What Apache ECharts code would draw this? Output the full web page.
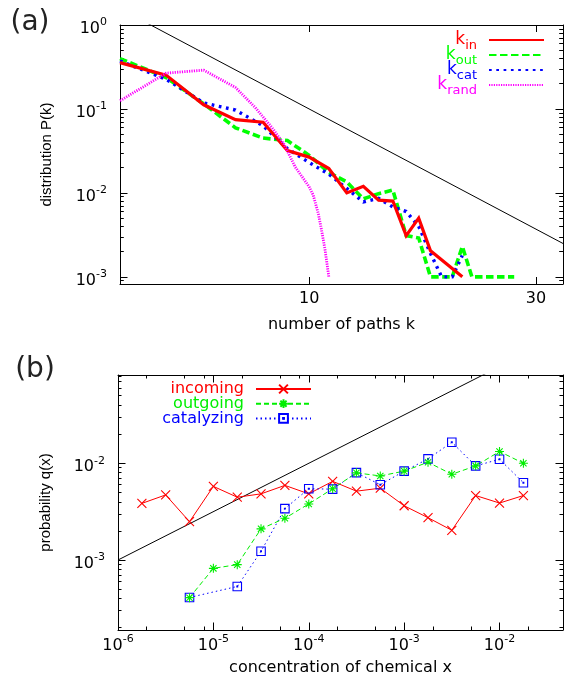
<!DOCTYPE html>
<html>
<head>
<meta charset="utf-8">
<title>paths k / concentration x</title>
<script src="https://cdn.jsdelivr.net/npm/echarts@6.0.0/dist/echarts.min.js"></script>
</head>
<body style="margin:0">
<div id="main" style="width:565px;height:677px"></div>
<script>
// (a) distribution of the number of paths
var kValues = [4,5,6,7,8,9,10,11,12,13,14,15,16,17,18,19,20,21,22,23,24,25,26,27];
var pIn  = [0.356,0.253,0.112,0.0747,0.0695,0.032,0.0267,0.0195,0.010,0.012,0.0082,0.0080,0.0031,0.0050,0.00205,null,null,0.001];
var pOut = [0.398,0.237,0.115,0.0596,0.045,0.042,0.028,0.0175,0.0135,0.0085,0.0098,0.0108,0.0031,0.0029,0.001,0.001,0.001,0.0023,0.001,0.001,0.001,0.001,0.001,0.001];
var pCat = [0.373,0.226,0.118,0.097,0.063,0.0336,0.023,0.0167,0.0113,0.0078,0.0086,0.0068,0.0060,0.0040,0.0019,0.001,0.001,0.0018];
var kRand = [4,5,6,7,7.7,8.35,8.85,9.35,10,10.2,10.45,10.62,10.8,11];
var pRand = [0.125,0.267,0.29,0.18,0.104,0.060,0.038,0.0203,0.0118,0.0094,0.0057,0.0036,0.0021,0.001];
var guideK = [4, 35];
var guideP = [1.5625, 0.00233];

// (b) probability vs concentration
var concX = [1.78e-6,3.16e-6,5.62e-6,1e-5,1.78e-5,3.16e-5,5.62e-5,1e-4,1.78e-4,3.16e-4,5.62e-4,1e-3,1.78e-3,3.16e-3,5.62e-3,1e-2,1.78e-2];
var qIn  = [0.00385,0.00471,0.00249,0.00577,0.00446,0.00483,0.00591,0.00483,0.00651,0.00515,0.00553,0.00364,0.00274,0.00203,0.00464,0.00388,0.00464];
var qOut = [null,null,0.000408,0.00082,0.000896,0.0021,0.0027,0.0038,0.00546,0.00796,0.0074,0.0083,0.01025,0.0077,0.0094,0.01325,0.0100];
var qCat = [null,null,0.00041,null,0.000533,0.00123,0.0034,0.00546,0.0054,0.0080,0.0060,0.0083,0.0111,0.0165,0.0094,0.0110,0.0063];
var guideX = [1e-6, 0.05];
var guideQ = [0.001, 0.2236];

// ticks
var aXTicks = [10, 30];
var aYTicks = [1e-3, 1e-2, 1e-1, 1];
var bXTicks = [1e-6, 1e-5, 1e-4, 1e-3, 1e-2];
var bYTicks = [1e-3, 1e-2];
var minorAll = [2,3,4,5,6,7,8,9];
var minorBX = [2,5,8];

// axis ranges (raw values)
var aX = [4, 34.2], aY = [8.22e-4, 1];
var bX = [1e-6, 0.0463], bY = [1.89e-4, 0.0818];

var lg = Math.log10;

function pairs(xs, ys) {
  return xs.map(function (x, i) {
    return ys[i] == null ? null : [lg(x), lg(ys[i])];
  }).filter(Boolean);
}
function minors(lo, hi, mants) {
  var out = [];
  for (var d = Math.floor(lg(lo)); d <= Math.ceil(lg(hi)); d++) {
    mants.forEach(function (m) { out.push(d + lg(m)); });
  }
  return out;
}
function pow10Label(v) { return '{b|10}{e|' + Math.round(v) + '}'; }

var RICH = {
  b: { fontFamily: 'DejaVu Sans', fontSize: 16, lineHeight: 16, padding: [4,0,0,0], verticalAlign: 'top', color: '#000' },
  e: { fontFamily: 'DejaVu Sans', fontSize: 11, lineHeight: 11, verticalAlign: 'top', color: '#000' }
};

function edge(o) {
  var ax = {
    type: 'value', gridIndex: o.grid, position: o.pos,
    min: lg(o.range[0]), max: lg(o.range[1]),
    axisLine: { show: !!o.line, onZero: false, lineStyle: { color: '#000', width: 1 } },
    axisTick: { show: true, inside: true, length: o.len, customValues: o.ticks,
                lineStyle: { color: '#000', width: 1 } },
    axisLabel: { show: false },
    splitLine: { show: false },
    axisPointer: { show: false }
  };
  if (o.fmt) {
    ax.axisLabel = { show: true, customValues: o.ticks, formatter: o.fmt, margin: o.margin,
                     color: '#000', fontFamily: 'DejaVu Sans', fontSize: 16, rich: RICH };
  }
  if (o.name) {
    ax.name = o.name;
    ax.nameLocation = 'middle';
    ax.nameGap = o.nameGap;
    ax.nameTextStyle = { color: '#000', fontFamily: o.nameFont, fontSize: o.nameSize };
  }
  return ax;
}

var aXMajor = aXTicks.map(lg);
var aYMajor = aYTicks.map(lg), aYMinor = minors(aY[0], aY[1], minorAll);
var bXMajor = bXTicks.map(lg), bXMinor = minors(bX[0], bX[1], minorBX);
var bYMajor = bYTicks.map(lg), bYMinor = minors(bY[0], bY[1], minorAll);

var xAxes = [
  edge({ grid: 0, pos: 'bottom', range: aX, line: true, len: 7, ticks: aXMajor, margin: 7,
         fmt: function (v) { return String(Math.round(Math.pow(10, v))); },
         name: 'number of paths k', nameGap: 33, nameFont: 'DejaVu Sans', nameSize: 16 }),
  edge({ grid: 0, pos: 'top', range: aX, line: true, len: 7, ticks: aXMajor }),
  edge({ grid: 1, pos: 'bottom', range: bX, line: true, len: 7.5, ticks: bXMajor, margin: 4,
         fmt: pow10Label,
         name: 'concentration of chemical x', nameGap: 30, nameFont: 'DejaVu Sans', nameSize: 16 }),
  edge({ grid: 1, pos: 'bottom', range: bX, len: 3.5, ticks: bXMinor }),
  edge({ grid: 1, pos: 'top', range: bX, line: true, len: 7.5, ticks: bXMajor }),
  edge({ grid: 1, pos: 'top', range: bX, len: 3.5, ticks: bXMinor })
];
var yAxes = [
  edge({ grid: 0, pos: 'left', range: aY, line: true, len: 7.5, ticks: aYMajor, margin: 13,
         fmt: pow10Label,
         name: 'distribution P(k)', nameGap: 66, nameFont: 'Liberation Sans', nameSize: 15 }),
  edge({ grid: 0, pos: 'left', range: aY, len: 3.8, ticks: aYMinor }),
  edge({ grid: 0, pos: 'right', range: aY, line: true, len: 7.5, ticks: aYMajor }),
  edge({ grid: 0, pos: 'right', range: aY, len: 3.8, ticks: aYMinor }),
  edge({ grid: 1, pos: 'left', range: bY, line: true, len: 7.5, ticks: bYMajor, margin: 13,
         fmt: pow10Label,
         name: 'probability q(x)', nameGap: 65, nameFont: 'Liberation Sans', nameSize: 15 }),
  edge({ grid: 1, pos: 'left', range: bY, len: 3.5, ticks: bYMinor }),
  edge({ grid: 1, pos: 'right', range: bY, line: true, len: 7.5, ticks: bYMajor }),
  edge({ grid: 1, pos: 'right', range: bY, len: 3.5, ticks: bYMinor })
];

var crossPath = 'path://M0,0L10,10M10,0L0,10';
var starPath = 'path://M5,0L5,10M0,5L10,5M1.5,1.5L8.5,8.5M8.5,1.5L1.5,8.5';
var boxPath = 'path://M0,0L10,0L10,10L0,10ZM4.5,4.5L5.5,4.5L5.5,5.5L4.5,5.5Z';

function curveA(name, xs, ys, color, width, dash) {
  return {
    name: name, type: 'line', xAxisIndex: 0, yAxisIndex: 0,
    data: pairs(xs, ys), symbol: 'none', silent: true,
    itemStyle: { color: color },
    lineStyle: { color: color, width: width, type: dash, cap: 'butt', join: 'miter' }
  };
}
function curveB(name, ys, color, path, size, dash) {
  return {
    name: name, type: 'line', xAxisIndex: 2, yAxisIndex: 4,
    data: pairs(concX, ys), symbol: path, symbolSize: size, showSymbol: true, silent: true,
    itemStyle: { color: 'rgba(0,0,0,0)', borderColor: color, borderWidth: 1.1 },
    lineStyle: { color: color, width: 1, type: dash }
  };
}

var series = [
  { name: 'guideA', type: 'line', xAxisIndex: 0, yAxisIndex: 0, data: pairs(guideK, guideP),
    symbol: 'none', silent: true, clip: true, lineStyle: { color: '#000', width: 1 } },
  curveA('kout', kValues, pOut, '#00ff00', 3.6, [7.5, 3.5]),
  curveA('kcat', kValues, pCat, '#0000ff', 3.4, [2.7, 4.6]),
  curveA('kin', kValues, pIn, '#ff0000', 3.2, 'solid'),
  curveA('krand', kRand, pRand, '#ff00ff', 2.8, [1.2, 1.2]),
  { name: 'guideB', type: 'line', xAxisIndex: 2, yAxisIndex: 4, data: pairs(guideX, guideQ),
    symbol: 'none', silent: true, clip: true, lineStyle: { color: '#000', width: 1 } },
  curveB('incoming', qIn, '#ff0000', crossPath, 9, 'solid'),
  curveB('catalyzing', qCat, '#0000ff', boxPath, 8.5, [1.5, 3]),
  curveB('outgoing', qOut, '#00ee00', starPath, 9, [5, 3])
];

var myChart = echarts.init(document.getElementById('main'), null, { renderer: 'canvas' });
myChart.setOption({
  backgroundColor: '#fff',
  animation: false,
  grid: [
    { left: 120, top: 25, width: 443, height: 259, outerBoundsMode: 'none' },
    { left: 118, top: 375, width: 445, height: 255, outerBoundsMode: 'none' }
  ],
  xAxis: xAxes,
  yAxis: yAxes,
  legend: [
    {
      data: [
        { name: 'kin', textStyle: { color: '#ff0000' } },
        { name: 'kout', textStyle: { color: '#00ff00' } },
        { name: 'kcat', textStyle: { color: '#0000ff' } },
        { name: 'krand', textStyle: { color: '#ff00ff' } }
      ],
      orient: 'vertical', align: 'right', right: 20, top: 31.5, padding: 0,
      itemWidth: 55, itemHeight: 10, itemGap: -6, selectedMode: false,
      itemStyle: { opacity: 0 },
      formatter: function (name) { return '{k|k}{s|' + name.slice(1) + '}{g| }'; },
      textStyle: {
        fontFamily: 'DejaVu Sans',
        rich: {
          k: { fontFamily: 'DejaVu Sans', fontSize: 17, lineHeight: 17, verticalAlign: 'top' },
          s: { fontFamily: 'DejaVu Sans', fontSize: 13, lineHeight: 13, padding: [8,0,0,0], verticalAlign: 'top' },
          g: { fontSize: 13, width: 7 }
        }
      }
    },
    {
      data: [
        { name: 'incoming', textStyle: { color: '#ff0000' } },
        { name: 'outgoing', textStyle: { color: '#00ee00' } },
        { name: 'catalyzing', textStyle: { color: '#0000ff' } }
      ],
      orient: 'vertical', align: 'right', right: 253, top: 381, padding: 0,
      itemWidth: 55, itemHeight: 11, itemGap: -1.3, selectedMode: false,
      formatter: function (name) { return '{t|' + name + '}{g| }'; },
      textStyle: {
        fontFamily: 'DejaVu Sans',
        rich: {
          t: { fontFamily: 'DejaVu Sans', fontSize: 16, lineHeight: 16 },
          g: { fontSize: 16, width: 7 }
        }
      }
    }
  ],
  graphic: [
    { type: 'text', x: 30, y: 23, style: { text: '(a)', align: 'center', verticalAlign: 'middle',
      font: '28px "DejaVu Sans"', fill: '#222' } },
    { type: 'text', x: 35, y: 370, style: { text: '(b)', align: 'center', verticalAlign: 'middle',
      font: '28px "DejaVu Sans"', fill: '#222' } }
  ],
  series: series
});
</script>
</body>
</html>
